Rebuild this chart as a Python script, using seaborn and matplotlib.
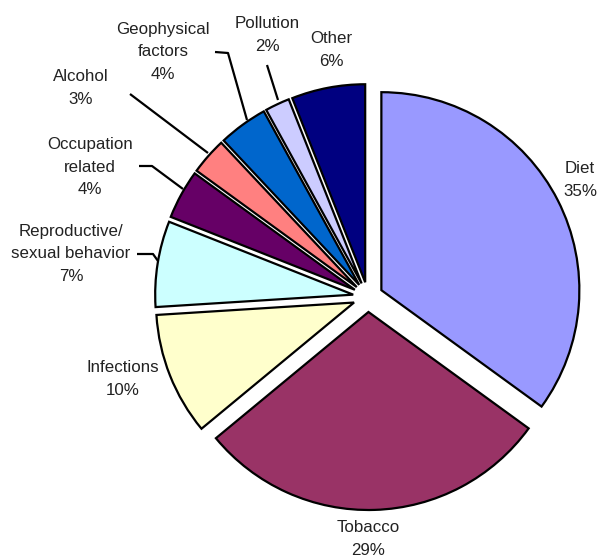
import matplotlib
matplotlib.use("Agg")
import matplotlib.pyplot as plt
import seaborn as sns

# ---- data ----
categories = ["Diet", "Tobacco", "Infections", "Reproductive/\nsexual behavior",
              "Occupation\nrelated", "Alcohol", "Geophysical\nfactors",
              "Pollution", "Other"]
values = [35, 29, 10, 7, 4, 3, 4, 2, 6]
colors = ["#9999FF", "#993366", "#FFFFCC", "#CCFFFF", "#660066",
          "#FF8080", "#0066CC", "#CCCCFF", "#000080"]

# ---- layout (pixel coords, y down) ----
W, H = 598, 560
center_px = (368, 297)
radius_px = 198
explode_px = 15
label_pos = [(580, 180), (368, 539), (123, 379), (71, 254), (90, 167),
             (81, 88), (163, 52), (267, 35), (331, 50)]
leaders = [
    [(137, 254), (153, 254), (158, 261)],
    [(139, 166), (152, 166), (183, 189)],
    [(130, 94), (208, 153)],
    [(215, 52), (228, 53), (247, 120)],
    [(267, 65), (278, 100)],
]

sns.set_theme(style="white")
plt.rcParams["font.family"] = ["Liberation Sans", "DejaVu Sans"]

fig = plt.figure(figsize=(W / 100, H / 100), dpi=100)
ax = fig.add_axes([0, 0, 1, 1])
ax.set_xlim(0, W)
ax.set_ylim(0, H)
ax.set_aspect("equal")
ax.axis("off")

def Y(y):
    return H - y

ax.pie(values, colors=colors, startangle=90, counterclock=False,
       explode=[explode_px] * len(values), radius=radius_px,
       center=(center_px[0], Y(center_px[1])),
       wedgeprops=dict(edgecolor="black", linewidth=1.6))
ax.set_xlim(0, W)
ax.set_ylim(0, H)

for cat, v, (x, y) in zip(categories, values, label_pos):
    ax.text(x, Y(y), f"{cat}\n{v}%", ha="center", va="center",
            fontsize=12.2, color="#222222", linespacing=1.6,
            multialignment="center")

for pts in leaders:
    xs = [p[0] for p in pts]
    ys = [Y(p[1]) for p in pts]
    ax.plot(xs, ys, color="black", linewidth=1.6, solid_capstyle="butt")

fig.savefig("out.png", dpi=100)
